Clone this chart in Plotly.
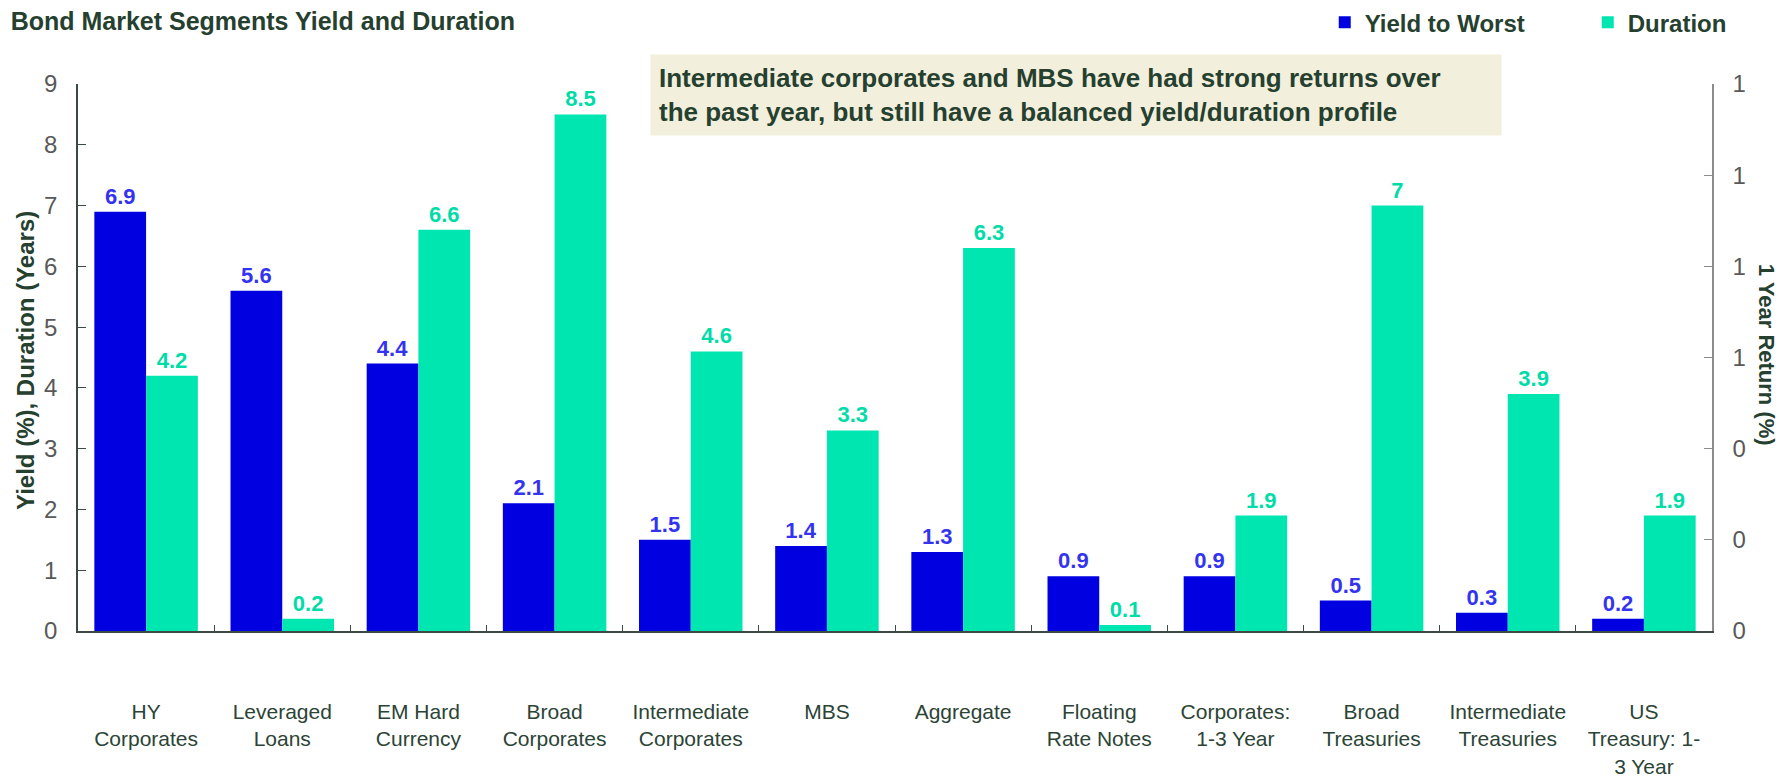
import plotly.graph_objects as go

categories = ['HY<br>Corporates', 'Leveraged<br>Loans', 'EM Hard<br>Currency', 'Broad<br>Corporates',
              'Intermediate<br>Corporates', 'MBS', 'Aggregate', 'Floating<br>Rate Notes',
              'Corporates:<br>1-3 Year', 'Broad<br>Treasuries', 'Intermediate<br>Treasuries',
              'US<br>Treasury: 1-<br>3 Year']
yield_to_worst = [6.9, 5.6, 4.4, 2.1, 1.5, 1.4, 1.3, 0.9, 0.9, 0.5, 0.3, 0.2]
duration = [4.2, 0.2, 6.6, 8.5, 4.6, 3.3, 6.3, 0.1, 1.9, 7, 3.9, 1.9]
return_ticks = [0, 0.2, 0.4, 0.6, 0.8, 1.0, 1.2]

FONT = 'Liberation Sans, Arial, sans-serif'
DARK = '#26402F'
GREY = '#595959'
BLUE = '#0000E0'
TEAL = '#00E6B0'

fig = go.Figure()

fig.add_trace(
    go.Bar(
        x = categories,
        y = yield_to_worst,
        name = 'Yield to Worst',
        marker = dict(color = BLUE, line = dict(width = 0)),
        text = [str(v) for v in yield_to_worst],
        textposition = 'outside',
        textfont = dict(family = FONT, size = 22, color = '#3434F0', weight = 'bold'),
        cliponaxis = False
    )
)

fig.add_trace(
    go.Bar(
        x = categories,
        y = duration,
        name = 'Duration',
        marker = dict(color = TEAL, line = dict(width = 0)),
        text = [str(v) for v in duration],
        textposition = 'outside',
        textfont = dict(family = FONT, size = 22, color = '#00DCA8', weight = 'bold'),
        cliponaxis = False
    )
)

# empty trace so the right-hand return axis is drawn
fig.add_trace(
    go.Scatter(
        x = [],
        y = [],
        yaxis = 'y2',
        showlegend = False,
        hoverinfo = 'skip'
    )
)

fig.update_layout(
    width = 1779,
    height = 779,
    margin = dict(l = 78, r = 67, t = 84, b = 148, autoexpand = False),
    paper_bgcolor = 'white',
    plot_bgcolor = 'white',
    barmode = 'group',
    bargap = 0.24,
    bargroupgap = 0,
    font = dict(family = FONT, color = DARK),
    title = dict(
        text = 'Bond Market Segments Yield and Duration',
        font = dict(family = FONT, size = 25, color = DARK, weight = 'bold'),
        xref = 'container', x = 0.006, xanchor = 'left',
        yref = 'container', y = 1 - 21 / 779, yanchor = 'middle'
    ),
    legend = dict(
        orientation = 'h',
        xref = 'paper', x = 0.763, xanchor = 'left',
        yref = 'paper', y = 1.112, yanchor = 'middle',
        font = dict(family = FONT, size = 24, color = DARK, weight = 'bold'),
        entrywidth = 218,
        bgcolor = 'rgba(0,0,0,0)'
    ),
    xaxis = dict(
        showline = True, linecolor = '#3B4A42', linewidth = 1.5,
        ticks = 'inside', tickson = 'boundaries', ticklen = 6, tickcolor = '#3B4A42',
        tickfont = dict(family = FONT, size = 21, color = '#2B4436'),
        tickangle = 0,
        ticklabelstandoff = 61,
        showgrid = False, automargin = False
    ),
    yaxis = dict(
        range = [0, 9], dtick = 1,
        showline = True, linecolor = '#3B4A42', linewidth = 1.5,
        ticks = 'inside', ticklen = 8, tickcolor = '#3B4A42',
        tickfont = dict(family = FONT, size = 24, color = GREY),
        ticklabelstandoff = 14,
        showgrid = False, zeroline = False, automargin = False
    ),
    yaxis2 = dict(
        overlaying = 'y', side = 'right',
        range = [0, 1.2], tickvals = return_ticks, tickformat = '.0f',
        showline = True, linecolor = '#8C8C8C', linewidth = 1.5,
        ticks = 'inside', ticklen = 8, tickcolor = '#8C8C8C',
        tickfont = dict(family = FONT, size = 24, color = GREY),
        ticklabelstandoff = 14,
        showgrid = False, zeroline = False, automargin = False
    ),
    annotations = [
        dict(
            text = '<b>Yield (%), Duration (Years)</b>',
            xref = 'paper', x = -0.032, xanchor = 'center',
            yref = 'paper', y = 0.495, yanchor = 'middle',
            textangle = -90, showarrow = False,
            font = dict(family = FONT, size = 24, color = DARK)
        ),
        dict(
            text = '<b>1 Year Return (%)</b>',
            xref = 'paper', x = 1.033, xanchor = 'center',
            yref = 'paper', y = 0.505, yanchor = 'middle',
            textangle = 90, showarrow = False,
            font = dict(family = FONT, size = 22, color = DARK)
        ),
        dict(
            text = '<b>Intermediate corporates and MBS have had strong returns over<br>'
                   'the past year, but still have a balanced yield/duration profile</b>',
            xref = 'paper', x = (650 - 78) / 1634, xanchor = 'left',
            yref = 'paper', y = 1 + (84 - 54) / 547, yanchor = 'top',
            align = 'left', showarrow = False,
            width = 834, borderpad = 8,
            bgcolor = '#F2EFDC',
            font = dict(family = FONT, size = 26, color = DARK)
        )
    ]
)

fig.write_html("out.html", config = dict(displayModeBar = False),
               post_script = "document.body.style.margin='0';")
